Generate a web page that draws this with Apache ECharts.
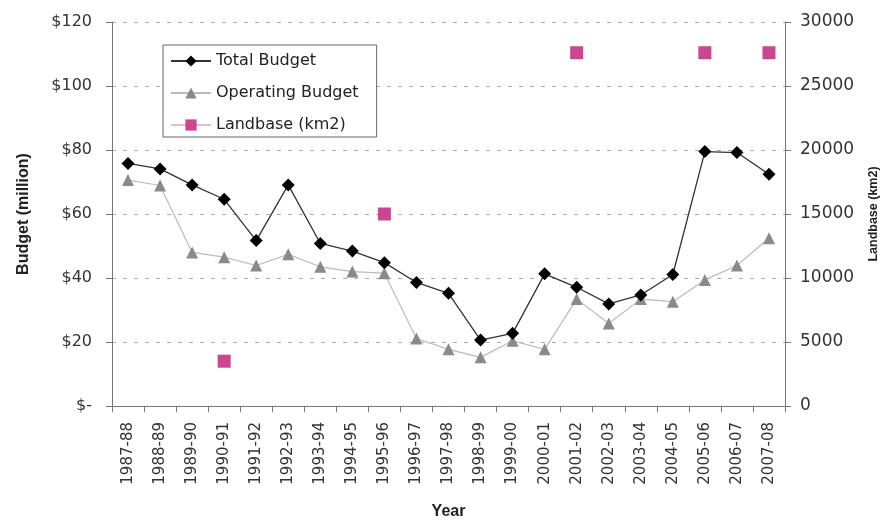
<!DOCTYPE html>
<html>
<head>
<meta charset="utf-8">
<script src="https://cdn.jsdelivr.net/npm/echarts@6/dist/echarts.min.js"></script>
<style>html,body{margin:0;padding:0;background:#fff;}#c{width:880px;height:521px;}</style>
</head>
<body>
<div id="c"></div>
<script>
const years = ['1987-88','1988-89','1989-90','1990-91','1991-92','1992-93','1993-94','1994-95','1995-96','1996-97','1997-98','1998-99','1999-00','2000-01','2001-02','2002-03','2003-04','2004-05','2005-06','2006-07','2007-08'];
const totalBudget = [75.8,74.1,69.1,64.6,51.7,69.1,50.8,48.4,44.8,38.6,35.2,20.6,22.7,41.3,37.1,31.9,34.7,41.1,79.5,79.2,72.4];
const operatingBudget = [70.6,68.9,48.0,46.5,43.9,47.4,43.5,42.0,41.5,21.1,17.7,15.2,20.4,17.7,33.4,25.8,33.4,32.6,39.4,43.9,52.4];
const landbase = [null,null,null,3500,null,null,null,null,15000,null,null,null,null,null,27600,null,null,null,27600,null,27600];
const leftTicks = [0,20,40,60,80,100,120];
const rightTicks = [0,5000,10000,15000,20000,25000,30000];

const F = 'DejaVu Sans, sans-serif';
const FB = 'Liberation Sans, Arial, sans-serif';
const chart = echarts.init(document.getElementById('c'), null, {renderer:'canvas'});
chart.setOption({
  animation:false,
  backgroundColor:'#fff',
  textStyle:{fontFamily:F},
  grid:{left:112,right:95,top:22,bottom:115,containLabel:false,outerBoundsMode:'none'},
  legend:{
    orient:'vertical', left:163, top:45,
    backgroundColor:'#fff',
    borderColor:'#666', borderWidth:1, borderRadius:0,
    padding:[8,18,4,7],
    itemWidth:40, itemHeight:14, itemGap:16,
    textStyle:{fontFamily:F,fontSize:16,color:'#222'},
    data:[
      {name:'Total Budget'},
      {name:'Operating Budget'},
      {name:'Landbase (km2)', lineStyle:{color:'#e070b0',width:1,opacity:1}}
    ]
  },
  xAxis:{
    type:'category', data:years, boundaryGap:true,
    name:'Year', nameLocation:'middle', nameGap:98,
    nameTextStyle:{fontFamily:FB,fontSize:16,fontWeight:'bold',color:'#222'},
    axisLine:{lineStyle:{color:'#777',width:1}},
    axisTick:{show:true,length:6,alignWithLabel:false,lineStyle:{color:'#777'}},
    axisLabel:{rotate:90,interval:0,fontSize:15,color:'#333',margin:16,fontFamily:F},
    splitLine:{show:false}
  },
  yAxis:[{
    type:'value', min:0, max:120, interval:20,
    name:'Budget (million)', nameLocation:'middle', nameGap:80,
    nameTextStyle:{fontFamily:FB,fontSize:16,fontWeight:'bold',color:'#222'},
    axisLine:{show:true,lineStyle:{color:'#777'}},
    axisTick:{show:true,length:6,lineStyle:{color:'#777'}},
    axisLabel:{fontSize:16,color:'#333',margin:20,fontFamily:F,
      formatter:function(v){return leftTicks.indexOf(v)>=0 ? (v===0?'$-':'$'+v) : '';}},
    splitLine:{show:true,lineStyle:{color:'#aaa',type:[4,7],width:1}}
  },{
    type:'value', min:0, max:30000, interval:5000,
    name:'Landbase (km2)', nameLocation:'middle', nameGap:82,
    nameTextStyle:{fontFamily:FB,fontSize:12.5,fontWeight:'bold',color:'#222'},
    axisLine:{show:true,lineStyle:{color:'#777'}},
    axisTick:{show:true,length:6,lineStyle:{color:'#777'}},
    axisLabel:{fontSize:17,color:'#333',margin:15,fontFamily:F,
      formatter:function(v){return rightTicks.indexOf(v)>=0 ? String(v) : '';}},
    splitLine:{show:false}
  }],
  series:[{
    name:'Total Budget', type:'line', yAxisIndex:0, data:totalBudget,
    symbol:'diamond', symbolSize:13, showAllSymbol:true,
    lineStyle:{color:'#333',width:1.3},
    itemStyle:{color:'#000'}, z:4
  },{
    name:'Operating Budget', type:'line', yAxisIndex:0, data:operatingBudget,
    symbol:'triangle', symbolSize:12, showAllSymbol:true,
    lineStyle:{color:'#bbb',width:1.2},
    itemStyle:{color:'#8a8a8a'}, z:3
  },{
    name:'Landbase (km2)', type:'line', yAxisIndex:1, data:landbase,
    connectNulls:false,
    symbol:'rect', symbolSize:13, showAllSymbol:true,
    lineStyle:{width:0,opacity:0},
    itemStyle:{color:'#cc4590'}, z:5
  }]
});
</script>
</body>
</html>
